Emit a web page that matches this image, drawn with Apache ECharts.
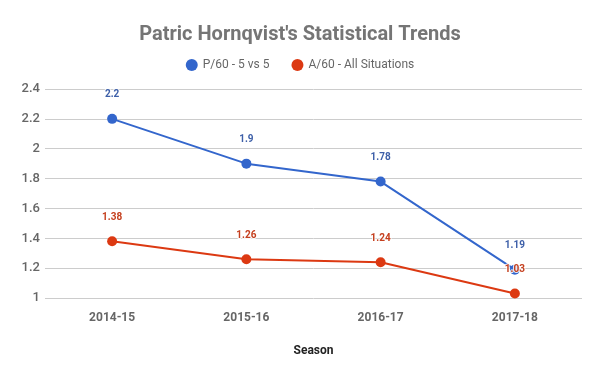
<!DOCTYPE html>
<html><head><meta charset="utf-8">
<script src="https://cdn.jsdelivr.net/npm/echarts@6/dist/echarts.min.js"></script>
<style>html,body{margin:0;padding:0;background:#fff}#c{width:600px;height:371px}</style>
</head><body><div id="c"></div>
<script>
const categories = ['2014-15', '2015-16', '2016-17', '2017-18'];
const p60 = [2.2, 1.9, 1.78, 1.19];
const a60 = [1.38, 1.26, 1.24, 1.03];
const yTicks = [1, 1.2, 1.4, 1.6, 1.8, 2, 2.2, 2.4];
const names = ['P/60 - 5 vs 5', 'A/60 - All Situations'];

const chart = echarts.init(document.getElementById('c'), null, {renderer: 'canvas'});
const font = 'Roboto, "Noto Sans", sans-serif';
function mk(name, data, color, labelColor, zl) {
  return {
    name, type: 'line', data, zlevel: zl, z: 2 + zl,
    symbol: 'circle', symbolSize: 10,
    itemStyle: {color},
    lineStyle: {color, width: 2},
    label: {show: true, position: 'top', distance: 14, color: labelColor, fontSize: 10, fontWeight: 'bold', fontFamily: font,
      textBorderColor: 'rgba(255,255,255,0.85)', textBorderWidth: 2},
    emphasis: {disabled: true}
  };
}
chart.setOption({
  animation: false,
  title: {text: "Patric Hornqvist's Statistical Trends", left: 'center', top: 20,
    textStyle: {color: '#757575', fontSize: 20, fontWeight: 'bold', fontFamily: font}},
  legend: {top: 54, left: 'center', itemGap: 22, icon: 'circle', itemWidth: 12, itemHeight: 12,
    textStyle: {color: '#666', fontSize: 12, fontFamily: font}, data: names},
  grid: {left: 45, right: 18, top: 89, bottom: 73, containLabel: false},
  xAxis: {type: 'category', data: categories, boundaryGap: true,
    name: 'Season', nameLocation: 'middle', nameGap: 47,
    nameTextStyle: {color: '#222', fontSize: 12, fontWeight: 'bold', fontFamily: font},
    axisLine: {show: false}, axisTick: {show: false},
    axisLabel: {color: '#666', fontSize: 12, fontWeight: 'bold', fontFamily: font, margin: 14}},
  yAxis: {type: 'value', min: yTicks[0], max: yTicks[yTicks.length - 1], interval: 0.2,
    axisLine: {show: false}, axisTick: {show: false},
    splitLine: {lineStyle: {color: '#ccc', width: 1}},
    axisLabel: {color: '#666', fontSize: 13, fontWeight: 500, fontFamily: font, margin: 5,
      formatter: v => String(Math.round(v * 10) / 10)}},
  series: [mk(names[0], p60, '#3366cc', '#3d5fa8', 0), mk(names[1], a60, '#dc3912', '#c5401f', 1)]
});
</script></body></html>
